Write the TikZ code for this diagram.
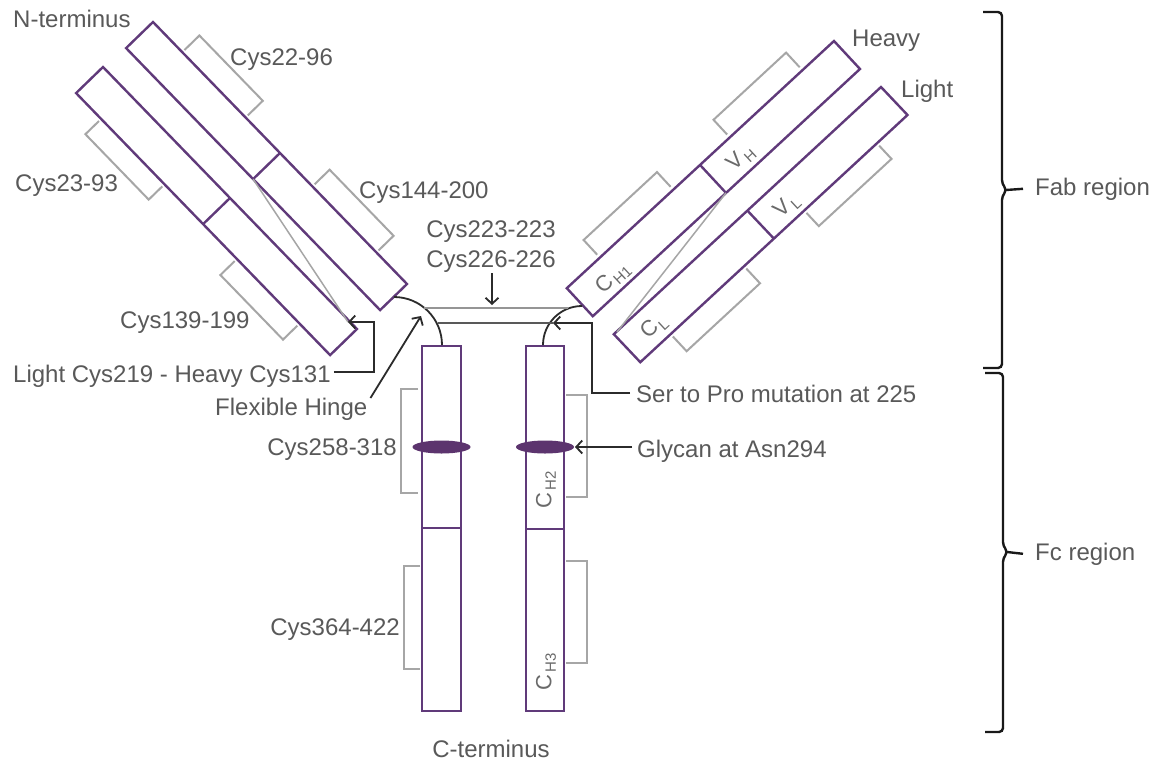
\documentclass[tikz,border=0pt]{standalone}
\usepackage{fontspec}
\setmainfont{Liberation Sans}
\usetikzlibrary{arrows.meta,calc}
\definecolor{chain}{HTML}{603A7A}
\definecolor{glyc}{HTML}{5C346E}
\definecolor{bondgray}{HTML}{A6A6A6}
\definecolor{txtgray}{HTML}{595959}
\definecolor{arrowc}{HTML}{2B2B2B}
\newcommand{\dsub}[2]{#1\kern2pt\raisebox{-0.2em}{\fontsize{15}{16}\selectfont #2}}
\tikzset{
  chainbox/.style={draw=chain, line width=2.4pt, line join=miter},
  ssbond/.style={draw=bondgray, line width=2pt},
  thinbond/.style={draw=bondgray, line width=1.5pt},
  lbl/.style={text=txtgray, font=\fontsize{24}{28}\selectfont, inner sep=0pt},
  dom/.style={text=txtgray!90, font=\fontsize{22}{24}\selectfont, inner sep=0pt},
  arr/.style={draw=arrowc, line width=1.8pt, -{Straight Barb[length=6pt,width=13pt,line width=1.8pt]}},
  hingearc/.style={draw=arrowc, line width=1.8pt},
  bracepath/.style={draw=black!90, line width=2.4pt, rounded corners=4pt},
}
\begin{document}
\begin{tikzpicture}[x=1pt,y=-1pt]
\useasboundingbox (0,0) rectangle (1154,761);
\fill[white] (0,0) rectangle (1154,761);

% ---------- left Fab ----------
\draw[chainbox] (153,22) -- (126.1,48.1) -- (380.1,310.1) -- (407,284) -- cycle;
\draw[chainbox] (280,153) -- (253.1,179.1);
\draw[chainbox] (103,67) -- (76.1,93.1) -- (330.1,355.1) -- (357,329) -- cycle;
\draw[chainbox] (230,198) -- (203.1,224.1);
\draw[ssbond] (184.4,50.1) -- (199.4,35.5) -- (262.8,100.8) -- (247.8,115.4);
\draw[ssbond] (314.6,184.3) -- (329.6,169.7) -- (393.6,235.8) -- (378.6,250.4);
\draw[ssbond] (99.0,121.0) -- (85.4,134.2) -- (148.7,199.6) -- (162.3,186.4);
\draw[ssbond] (234.7,261.1) -- (220.4,275.0) -- (283.0,339.6) -- (297.3,325.7);
\coordinate (lhtip) at (348,322);
\draw[thinbond] (253.1,179.1) -- (lhtip);

% ---------- right Fab ----------
\draw[chainbox] (834,41) -- (860,69) -- (592.8,316.2) -- (566.8,288.2) -- cycle;
\draw[chainbox] (700.0,164.9) -- (726.0,192.9);
\draw[chainbox] (881,87) -- (907.5,115) -- (640.3,362.2) -- (613.8,334.2) -- cycle;
\draw[chainbox] (747.4,210.6) -- (773.9,238.6);
\draw[ssbond] (799.7,67.3) -- (786.1,52.6) -- (713.5,119.8) -- (727.1,134.5);
\draw[ssbond] (670.6,186.8) -- (657.0,172.1) -- (583.6,240.0) -- (597.2,254.7);
\draw[ssbond] (879.2,145.7) -- (891.5,158.9) -- (818.8,226.1) -- (806.5,212.9);
\draw[ssbond] (746.3,268.6) -- (760.0,283.3) -- (686.6,351.2) -- (672.9,336.5);
\draw[thinbond] (726.0,192.9) -- (617,332);

\node[dom, rotate=42.8] (vh) at (741,158) {\dsub{V}{H}};
\node[dom, rotate=42.8] (vl) at (787,206) {\dsub{V}{L}};
\node[dom, rotate=42.8] (ch1) at (613,278) {\dsub{C}{H1}};
\node[dom, rotate=42.8] (cl) at (654,327) {\dsub{C}{L}};

% ---------- Fc ----------
\draw[chainbox] (422,346) rectangle (461,711);
\draw[chainbox] (422,528) -- (461,528);
\draw[chainbox] (526,346) rectangle (564,711);
\draw[chainbox] (526,529) -- (564,529);
\draw[ssbond] (418,389) -- (401,389) -- (401,493) -- (418,493);
\draw[ssbond] (420,566) -- (404,566) -- (404,669) -- (420,669);
\draw[ssbond] (566,395) -- (587,395) -- (587,497) -- (566,497);
\draw[ssbond] (566,561) -- (587,561) -- (587,663) -- (566,663);
\fill[glyc] (441.5,447) ellipse [x radius=29, y radius=6.5];
\fill[glyc] (545,447) ellipse [x radius=29, y radius=6.5];
\coordinate (glytip) at (575,447);
\node[dom, rotate=90] (ch2) at (546,490) {\dsub{C}{H2}};
\node[dom, rotate=90] (ch3) at (546,672) {\dsub{C}{H3}};

% ---------- hinge ----------
\draw[hingearc] (394,297) .. controls (420.5,297) and (442,318.5) .. (442,345);
\draw[hingearc] (543,345) .. controls (543,323.5) and (560.5,306) .. (582,306);
\draw[draw=bondgray!90!black, line width=2.4pt] (424,308) -- (567.5,308);
\draw[draw=txtgray, line width=1.8pt] (438,323) -- (553,323);
\coordinate (sptip) at (553,323);
\coordinate (hingetip) at (421,316);
\coordinate (bondtip) at (492,305);

% ---------- labels ----------
\node[lbl, anchor=base west] (nterm) at (13,27) {N-terminus};
\node[lbl, anchor=base west] (c2296) at (230,65) {Cys22-96};
\node[lbl, anchor=base west] (c2393) at (15,191) {Cys23-93};
\node[lbl, anchor=base west] (c144) at (359,198) {Cys144-200};
\node[lbl, anchor=base west] (c139) at (120,328) {Cys139-199};
\node[lbl, anchor=base west] (lc) at (13,382) {Light Cys219 - Heavy Cys131};
\node[lbl, anchor=base west] (fh) at (215,415) {Flexible Hinge};
\node[lbl, anchor=base] (c223) at (491,237) {Cys223-223};
\node[lbl, anchor=base] (c226) at (491,267) {Cys226-226};
\node[lbl, anchor=base west] (heavy) at (852,46) {Heavy};
\node[lbl, anchor=base west] (light) at (901,97) {Light};
\node[lbl, anchor=base west] (sp) at (636,402) {Ser to Pro mutation at 225};
\node[lbl, anchor=base west] (gly) at (637,457) {Glycan at Asn294};
\node[lbl, anchor=base east] (c258) at (397,455) {Cys258-318};
\node[lbl, anchor=base east] (c364) at (400,635) {Cys364-422};
\node[lbl, anchor=base] (cterm) at (491,757) {C-terminus};
\node[lbl, anchor=base west] (fab) at (1035,195) {Fab region};
\node[lbl, anchor=base west] (fc) at (1035,560) {Fc region};

% ---------- arrows ----------
\draw[arr] ($(lc.base east)+(3,-10)$) -- (374,372) |- (lhtip);
\draw[arr] ($(fh.base east)+(3,-17)$) -- (hingetip);
\draw[arr] ($(c226.base)+(1,6)$) -- (bondtip);
\draw[arr] ($(sp.base west)+(-6,-9)$) -- (592,393) |- (sptip);
\draw[arr] ($(gly.base west)+(-5,-10)$) -- (glytip);

% ---------- braces ----------
\draw[bracepath] (983,12) -- (1002,12) -- (1002,184) -- (1007,190) -- (1002,196) -- (1002,368) -- (983,368);
\draw[draw=black!90, line width=2.4pt] (1006,190) -- (fab.west -| 1023,0);
\draw[bracepath] (985,373) -- (1003,373) -- (1003,546) -- (1008,552) -- (1003,558) -- (1003,732) -- (985,732);
\draw[draw=black!90, line width=2.4pt] (1007,552) -- (fc.west -| 1023,0);
\end{tikzpicture}
\end{document}
